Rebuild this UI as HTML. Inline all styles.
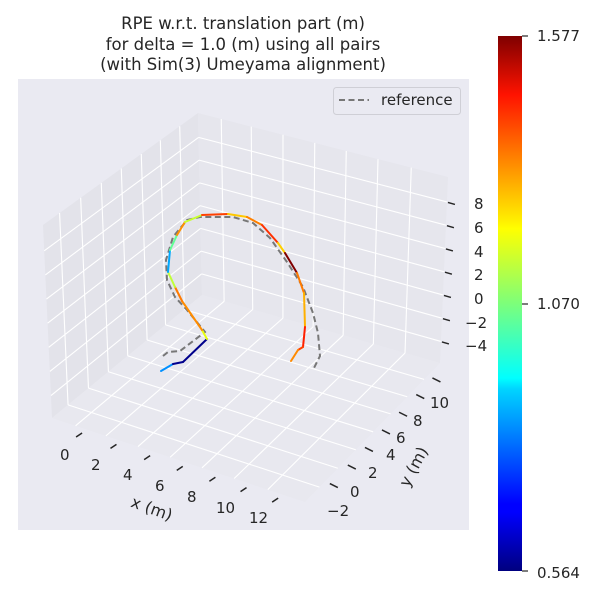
<!DOCTYPE html>
<html><head><meta charset="utf-8"><style>
html,body{margin:0;padding:0;background:#fff;width:600px;height:600px;overflow:hidden}
svg text{font-family:"DejaVu Sans","Liberation Sans",sans-serif;fill:#262626}
</style></head><body>
<svg id="s" width="600" height="600" xmlns="http://www.w3.org/2000/svg">
<defs>
<linearGradient id="jet" x1="0" y1="1" x2="0" y2="0">
<stop offset="0" stop-color="#00007f"/><stop offset="0.11" stop-color="#0000ff"/>
<stop offset="0.125" stop-color="#0000ff"/><stop offset="0.34" stop-color="#00d4ff"/>
<stop offset="0.36" stop-color="#0ff"/><stop offset="0.5" stop-color="#7dff7a"/>
<stop offset="0.64" stop-color="#ff0"/><stop offset="0.66" stop-color="#ffea00"/>
<stop offset="0.89" stop-color="#ff1300"/><stop offset="1" stop-color="#7f0000"/>
</linearGradient>
<clipPath id="ax"><rect x="18" y="79" width="451" height="451"/></clipPath>
</defs>
<rect x="18" y="79" width="451" height="451" fill="#eaeaf2"/>
<g id="panes"></g>
<g id="grid" stroke="#fff" stroke-width="1.1" fill="none"></g>
<g id="ticks" stroke="#262626" stroke-width="1.5"></g>
<polyline fill="none" stroke="#777" stroke-width="2" stroke-dasharray="6,3.5" points="163,356 168,352 180,351 205,332 187,310 175,297 167,280 166,260 173,237 187,220 200,217 233,217 253,223 270,238 287,262 303,287 313,313 318,333 320,356 313,370"/>
<g id="traj" fill="none" stroke-width="2" stroke-linecap="round"></g>
<g font-size="15">
<text x="474" y="209">8</text><text x="474" y="233">6</text><text x="474" y="257">4</text><text x="474" y="280">2</text><text x="474" y="304">0</text><text x="465" y="328">−2</text><text x="465" y="351">−4</text>
<text x="60" y="460">0</text><text x="91" y="470">2</text><text x="123" y="480">4</text><text x="155" y="491">6</text><text x="187" y="502">8</text><text x="216" y="513">10</text><text x="249" y="523">12</text>
<text x="327" y="516">−2</text><text x="350" y="497">0</text><text x="368" y="478">2</text><text x="386" y="460">4</text><text x="396" y="443">6</text><text x="413" y="426">8</text><text x="430" y="408">10</text>
</g>
<text x="152" y="514" font-size="16" transform="rotate(20 152 508)" text-anchor="middle">x (m)</text>
<text x="414" y="472" font-size="16" transform="rotate(-62 414 467)" text-anchor="middle">y (m)</text>
<g clip-path="url(#ax)"><text x="495" y="275" font-size="16" transform="rotate(90 495 270)" text-anchor="middle">z (m)</text></g>
<rect x="333.5" y="87.5" width="127" height="27" rx="3" fill="#eaeaf2" stroke="#cfcfd6"/>
<line x1="339" y1="100" x2="369" y2="100" stroke="#777" stroke-width="2" stroke-dasharray="6,3.5"/>
<text x="381" y="105" font-size="15">reference</text>
<g font-size="16.5" text-anchor="middle">
<text x="243" y="29">RPE w.r.t. translation part (m)</text>
<text x="243" y="50">for delta = 1.0 (m) using all pairs</text>
<text x="243" y="70">(with Sim(3) Umeyama alignment)</text>
</g>
<rect x="498" y="36" width="24" height="535" fill="url(#jet)"/>
<g stroke="#262626" stroke-width="1.2"><line x1="522" y1="36" x2="528" y2="36"/><line x1="522" y1="304" x2="528" y2="304"/><line x1="522" y1="571" x2="528" y2="571"/></g>
<g font-size="15"><text x="537" y="41">1.577</text><text x="537" y="309">1.070</text><text x="537" y="578">0.564</text></g>
</svg>
<script>
var NS="http://www.w3.org/2000/svg";
function el(p,t,a){var e=document.createElementNS(NS,t);for(var k in a)e.setAttribute(k,a[k]);document.getElementById(p).appendChild(e);return e;}
function bl(q,u,v){
 var x=(1-u)*(1-v)*q[0][0]+u*(1-v)*q[1][0]+u*v*q[2][0]+(1-u)*v*q[3][0];
 var y=(1-u)*(1-v)*q[0][1]+u*(1-v)*q[1][1]+u*v*q[2][1]+(1-u)*v*q[3][1];return [x,y];}
var L=[[43,225],[198,113],[202,295],[52,418]];
var R=[[198,113],[448,177],[440,363],[202,295]];
var F=[[202,295],[440,363],[305,502],[52,418]];
function poly(q,f){el("panes","polygon",{points:q.map(function(p){return p.join(",")}).join(" "),fill:f});}
poly(L,"#e3e3ea");poly(R,"#e6e6ed");poly(F,"#e8e8ef");
function ln(a,b){el("grid","line",{x1:a[0],y1:a[1],x2:b[0],y2:b[1]});}
var lx=[0.107,0.243,0.376,0.505,0.634,0.757,0.882];
var rx=[0.093,0.213,0.34,0.467,0.593,0.72,0.853];
var zt=[];for(var k=0;k<7;k++)zt.push(0.134+0.125*k);
lx.forEach(function(t){ln(bl(L,t,0),bl(L,t,1));ln(bl(F,0,1-t),bl(F,1,1-t));});
rx.forEach(function(t){ln(bl(R,t,0),bl(R,t,1));ln(bl(F,t,0),bl(F,t,1));});
zt.forEach(function(t){ln(bl(L,0,t),bl(L,1,t));ln(bl(R,0,t),bl(R,1,t));});
zt.forEach(function(t){var p=bl(R,1,t);el("ticks","line",{x1:p[0]+1,y1:p[1]+0.5,x2:p[0]+8,y2:p[1]+2.5});});
lx.forEach(function(t){var q=[52+(305-52)*t,418+(502-418)*t];el("ticks","line",{x1:q[0]+3,y1:q[1]+6,x2:q[0]-3,y2:q[1]+10});});
rx.forEach(function(t){var q=[305+(440-305)*(1-t),502+(363-502)*(1-t)];el("ticks","line",{x1:q[0]+5,y1:q[1]+2,x2:q[0]+13,y2:q[1]+6});});
var pts=[[161,371,"#3dffba"],[173,364,"#0090ff"],[183,362,"#00008f"],[207,339,"#00008b"],[202,330,"#e8ff10"],[182,301,"#ff8c00"],[175,287,"#ff7a00"],[168,272,"#c0ff36"],[170,250,"#00a8ff"],[177,235,"#60ff96"],[185,222,"#ff9000"],[202,215,"#c8ff30"],[228,214,"#ff4000"],[247,217,"#ffc800"],[262,225,"#ff8000"],[278,243,"#ff3000"],[285,253,"#ffd000"],[297,273,"#800000"],[304,293,"#ff7a00"],[305,327,"#ffb000"],[303,347,"#ff2000"],[298,350,"#ff4000"],[291,361,"#ff8a00"]];
for(var i=1;i<pts.length;i++){el("traj","line",{x1:pts[i-1][0],y1:pts[i-1][1],x2:pts[i][0],y2:pts[i][1],stroke:pts[i][2]});}
</script>
</body></html>
